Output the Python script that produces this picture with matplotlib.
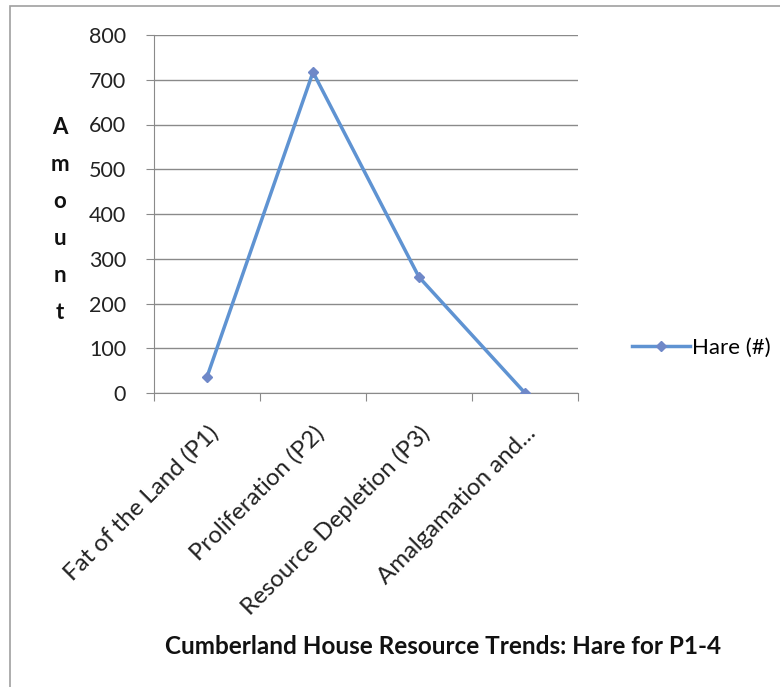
import matplotlib.pyplot as plt
from matplotlib.patches import Rectangle

# data
periods = ["Fat of the Land (P1)", "Proliferation (P2)",
           "Resource Depletion (P3)", "Amalgamation and..."]
hare = [36, 717, 259, 0]
yticks = [0, 100, 200, 300, 400, 500, 600, 700, 800]

plt.rcParams['font.family'] = ['Lato', 'DejaVu Sans']

W, H = 780, 687
fig = plt.figure(figsize=(W / 100, H / 100), dpi=100)
fig.patch.set_facecolor('white')

# outer chart border (left and top visible)
fig.add_artist(Rectangle((10 / W, -0.1), 1.2, 1 - 6 / H + 0.1,
                         transform=fig.transFigure, fill=False,
                         edgecolor='#a0a0a0', linewidth=1.2))

ax = fig.add_axes([154 / W, 1 - 393 / H, (578 - 154) / W, (393 - 35) / H])
x = range(len(periods))
line, = ax.plot(x, hare, color='#5f93d2', linewidth=2.5, marker='D',
                markersize=5, markerfacecolor='#6f88c8', markeredgecolor='#6f88c8',
                label='Hare (#)', zorder=3)

ax.set_xlim(-0.5, len(periods) - 0.5)
ax.set_ylim(0, 800)
ax.set_yticks(yticks)
ax.set_yticklabels([str(v) for v in yticks], fontsize=15.5, color='#222222')
ax.yaxis.grid(True, color='#8a8a8a', linewidth=1)
ax.set_axisbelow(True)

ax.set_xticks([i - 0.5 for i in range(len(periods) + 1)])
ax.set_xticklabels([])
ax.set_xticks(list(x), minor=True)
ax.set_xticklabels(periods, minor=True, rotation=45, ha='right',
                   rotation_mode='anchor', fontsize=17.3, color='#222222')
ax.tick_params(axis='x', which='minor', length=0, pad=21)
ax.tick_params(axis='x', which='major', length=6, color='#8a8a8a', direction='out')
ax.tick_params(axis='y', length=6, color='#8a8a8a', pad=14)

for s in ['top', 'right']:
    ax.spines[s].set_visible(False)
ax.spines['left'].set_color('#8a8a8a')
ax.spines['bottom'].set_color('#8a8a8a')

# vertical stacked axis label
fig.text(60 / W, 1 - 220 / H, "\n".join("Amount"), ha='center', va='center',
         fontsize=16, fontweight='bold', linespacing=1.95, color='#111111')

fig.legend(handles=[line], loc='center left',
           bbox_to_anchor=(612 / W, 1 - 348 / H), frameon=False,
           fontsize=16, handlelength=2.6, handletextpad=0.1)

fig.text(443 / W, 1 - 654 / H, "Cumberland House Resource Trends: Hare for P1-4",
         ha='center', va='baseline', fontsize=17.5, fontweight='bold', color='#111111')

fig.savefig('out.png', dpi=100)
